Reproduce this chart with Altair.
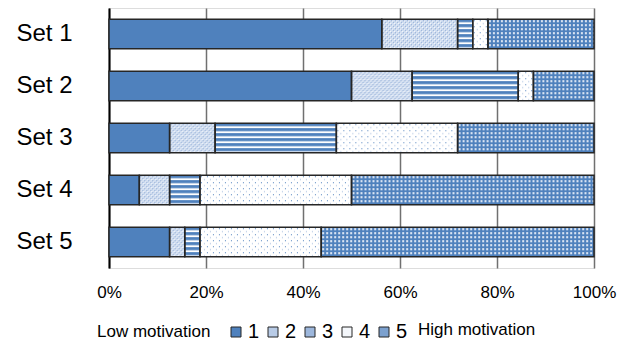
import urllib.parse

import altair as alt
import pandas as pd

# Share of answers (%) per motivation level for each set
sets = ["Set 1", "Set 2", "Set 3", "Set 4", "Set 5"]
levels = ["1", "2", "3", "4", "5"]
level_1 = [56.25, 50.0, 12.5, 6.25, 12.5]
level_2 = [15.625, 12.5, 9.375, 6.25, 3.125]
level_3 = [3.125, 21.875, 25.0, 6.25, 3.125]
level_4 = [3.125, 3.125, 25.0, 31.25, 25.0]
level_5 = [21.875, 12.5, 28.125, 50.0, 56.25]
tick_values = [0, 20, 40, 60, 80, 100]
scale_ends = ["Low motivation", "High motivation"]

FONT = "Liberation Sans"
BLUE = "#4F81BD"
EDGE = "#262626"

# flat colours used by the legend swatches (and under the patterns)
swatch_colors = ["#4F81BD", "#B8CBE6", "#9DB7DC", "#F4F7FB", "#7CA1CF"]


def svg_pattern(tile_w, tile_h, background, shapes):
    """Tiled SVG fill as a data URL, drawn at 1:1 inside the image box."""
    body = "".join(
        f"<rect x='{x}' y='{y}' width='{w}' height='{h}' fill='{c}'/>"
        for x, y, w, h, c in shapes
    )
    svg = (
        "<svg xmlns='http://www.w3.org/2000/svg' width='100%' height='100%'>"
        f"<defs><pattern id='p' width='{tile_w}' height='{tile_h}' "
        "patternUnits='userSpaceOnUse'>"
        f"<rect width='{tile_w}' height='{tile_h}' fill='{background}'/>{body}"
        "</pattern></defs>"
        "<rect width='100%' height='100%' fill='url(#p)'/></svg>"
    )
    return "data:image/svg+xml;charset=utf-8," + urllib.parse.quote(svg)


patterns = {
    "1": svg_pattern(4, 4, BLUE, []),
    "2": svg_pattern(4, 4, "#d0ddf0", [(0, 0, 1, 1, "#ffffff"),
                                       (2, 2, 1, 1, "#ffffff"),
                                       (1, 1, 1, 1, "#7f9fcf"),
                                       (3, 3, 1, 1, "#7f9fcf")]),
    "3": svg_pattern(5, 5, "#ffffff", [(0, 0, 5, 3, BLUE)]),
    "4": svg_pattern(6, 6, "#ffffff", [(1, 1, 1, 1, "#5f8cc4"),
                                       (4, 4, 1, 1, "#9fb9dd")]),
    "5": svg_pattern(4, 4, BLUE, [(1, 1, 2, 2, "#e8eef8")]),
}

columns = [level_1, level_2, level_3, level_4, level_5]
rows = []
for i, s in enumerate(sets):
    for lv, col in zip(levels, columns):
        rows.append({"set": s, "level": lv, "share": col[i], "pattern": patterns[lv]})
df = pd.DataFrame(rows)

base = (
    alt.Chart(df)
    .transform_window(
        cum="sum(share)",
        groupby=["set"],
        sort=[alt.SortField("level")],
        frame=[None, 0],
    )
    .transform_calculate(start="datum.cum - datum.share")
)

y_enc = alt.Y(
    "set:N",
    sort=sets,
    scale=alt.Scale(paddingInner=0.43, paddingOuter=0.215),
    axis=alt.Axis(
        title=None,
        ticks=False,
        domain=True,
        domainColor="#000000",
        domainWidth=2,
        labelFont=FONT,
        labelFontSize=24,
        labelColor="#000000",
        labelPadding=37,
        grid=False,
    ),
)
x_enc = alt.X(
    "start:Q",
    scale=alt.Scale(domain=[0, 100], nice=False),
    axis=alt.Axis(
        title=None,
        values=tick_values,
        labelExpr="datum.value + '%'",
        labelFlush=False,
        ticks=False,
        domain=False,
        grid=True,
        gridColor="#707070",
        gridWidth=1.5,
        labelFont=FONT,
        labelFontSize=17,
        labelColor="#000000",
        labelPadding=16,
    ),
)

flat = base.mark_bar().encode(
    y=y_enc,
    x=x_enc,
    x2="cum:Q",
    color=alt.Color(
        "level:N",
        scale=alt.Scale(domain=levels, range=swatch_colors),
        legend=alt.Legend(
            orient="none",
            legendX=-12,
            legendY=314,
            direction="horizontal",
            title=scale_ends[0],
            titleOrient="left",
            titleFont=FONT,
            titleFontSize=17,
            titleFontWeight="normal",
            titleColor="#000000",
            titlePadding=15,
            labelFont=FONT,
            labelFontSize=20,
            labelColor="#000000",
            labelOffset=2,
            symbolType="square",
            symbolSize=100,
            symbolStrokeColor=EDGE,
            symbolStrokeWidth=1,
            symbolOpacity=1,
            columnPadding=3,
        ),
    ),
)

textured = base.mark_image(aspect=False).encode(
    y=alt.Y("set:N", sort=sets),
    x=alt.X("start:Q"),
    x2="cum:Q",
    url="pattern:N",
)

outline = base.mark_bar(fillOpacity=0, stroke=EDGE, strokeWidth=1.5).encode(
    y=alt.Y("set:N", sort=sets),
    x=alt.X("start:Q"),
    x2="cum:Q",
)

high_label = (
    alt.Chart(pd.DataFrame({"label": [scale_ends[1]]}))
    .mark_text(align="left", baseline="middle", font=FONT, fontSize=17, color="#000000")
    .encode(text="label:N", x=alt.value(309), y=alt.value(322))
)

chart = (
    alt.layer(flat, textured, outline, high_label)
    .properties(
        width=485,
        height=260,
        autosize=alt.AutoSizeParams(type="none"),
        padding={"left": 109, "top": 8, "right": 32, "bottom": 77},
    )
    .configure_view(stroke=None)
    .configure(background="#ffffff")
)

chart.save("out.html", embed_options={"renderer": "svg", "actions": False})
